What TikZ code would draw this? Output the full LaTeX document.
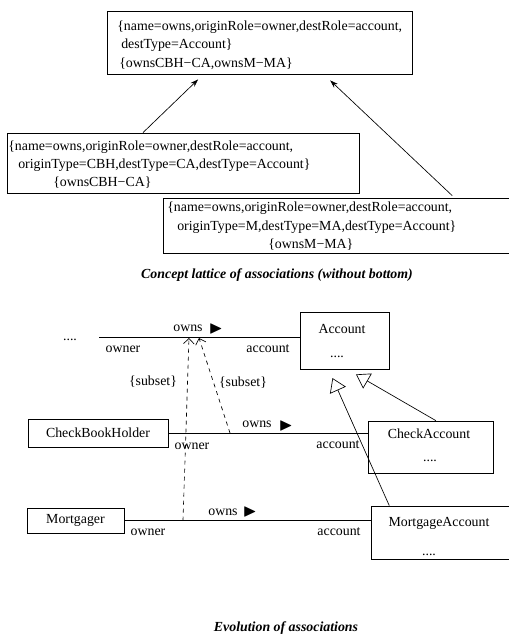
\documentclass[tikz,border=0pt]{standalone}
\usepackage{amssymb}
\usepackage{fontspec}
\setmainfont{Liberation Serif}
\usetikzlibrary{arrows.meta,positioning}

\begin{document}
\begin{tikzpicture}[x=0.75pt,y=-0.75pt,font=\fontsize{10.4}{12}\selectfont,
	box/.style={draw,line width=0.6pt,inner sep=0pt},
	txt/.style={anchor=west,inner sep=0pt},
	lbl/.style={inner sep=0pt},
	dir/.style={inner sep=0pt,scale=1.3},
	captxt/.style={font=\fontsize{10.4}{12}\selectfont\bfseries\itshape},
	subarr/.style={->,dashed,line width=0.5pt,>={Straight Barb[length=4pt]}},
	gen/.style={-{Triangle[open,length=10pt,width=13pt]},line width=0.5pt}]
	\useasboundingbox (0,0) rectangle (509,639);
	% concept lattice
	\node[box,minimum width=305*0.75pt,minimum height=63*0.75pt] (top) at (259.5,42.5) {};
	\node[txt] (t1) at (117,27) {\{name=owns,originRole=owner,destRole=account,};
	\node[txt] (t2) at (121,45) {destType=Account\}};
	\node[txt] (t3) at (119,64) {\{ownsCBH−CA,ownsM−MA\}};
	\node[box,minimum width=352*0.75pt,minimum height=60*0.75pt] (cbhca) at (183,163) {};
	\node[txt] (c1) at (8,147) {\{name=owns,originRole=owner,destRole=account,};
	\node[txt] (c2) at (18,165) {originType=CBH,destType=CA,destType=Account\}};
	\node[txt] (c3) at (53,183) {\{ownsCBH−CA\}};
	\node[box,minimum width=357*0.75pt,minimum height=55*0.75pt] (mma) at (341.5,225.5) {};
	\node[txt] (m1) at (167,208) {\{name=owns,originRole=owner,destRole=account,};
	\node[txt] (m2) at (177,227) {originType=M,destType=MA,destType=Account\}};
	\node[txt] (m3) at (268,245) {\{ownsM−MA\}};
	\draw[-{Stealth[length=6pt,width=4pt]},line width=0.5pt] ([xshift=-30pt]cbhca.north) -- ([xshift=-46pt,yshift=-3.75pt]top.south);
	\draw[-{Stealth[length=6pt,width=4pt]},line width=0.5pt] ([xshift=83pt,yshift=1.5pt]mma.north) -- ([xshift=53pt,yshift=-4.5pt]top.south);
	\node[captxt] (cap1) at (277,275) {Concept lattice of associations (without bottom)};
	% class diagram
	\node[box,minimum width=89*0.75pt,minimum height=57*0.75pt] (acc) at (344.5,340.5) {};
	\node[lbl] (accn) at (342,329) {Account};
	\node[lbl] (accd) at (337,357) {....};
	\node[box,minimum width=140*0.75pt,minimum height=28*0.75pt] (cbh) at (98,433) {CheckBookHolder};
	\node[box,minimum width=125*0.75pt,minimum height=52*0.75pt] (ca) at (430.5,447) {};
	\node[lbl] (can) at (429,434) {CheckAccount};
	\node[lbl] (cad) at (430,461) {....};
	\node[box,minimum width=97*0.75pt,minimum height=25*0.75pt] (mg) at (75.5,520.5) {Mortgager};
	\node[box,minimum width=149*0.75pt,minimum height=53*0.75pt] (ma) at (445.5,532.5) {};
	\node[lbl] (man) at (439,523) {MortgageAccount};
	\node[lbl] (mad) at (429,555) {....};
	\node[lbl] (dots) at (70,340) {....};
	\coordinate (topL) at (99,337);
	\draw[line width=0.6pt] (topL) -- (topL -| acc.west);
	\draw[line width=0.6pt] (cbh.east) -- (cbh.east -| ca.west);
	\draw[line width=0.6pt] (mg.east) -- (mg.east -| ma.west);
	\node[lbl] (own1) at (188,328) {owns};
	\node[dir] (tri1) at (216,329) {$\blacktriangleright$};
	\node[lbl] (own2) at (257,424) {owns};
	\node[dir] (tri2) at (286,426) {$\blacktriangleright$};
	\node[lbl] (own3) at (223,512) {owns};
	\node[dir] (tri3) at (250,512) {$\blacktriangleright$};
	\node[lbl] (or1) at (123,349) {owner};
	\node[lbl] (ar1) at (268,349) {account};
	\node[lbl] (or2) at (192,446) {owner};
	\node[lbl] (ar2) at (338,445) {account};
	\node[lbl] (or3) at (148,532) {owner};
	\node[lbl] (ar3) at (339,532) {account};
	\coordinate (s1a) at (183,520.5);
	\coordinate (s1b) at (189,338);
	\coordinate (s2a) at (230,433);
	\coordinate (s2b) at (199,338);
	\draw[subarr] (s1a) -- (s1b);
	\draw[subarr] (s2a) -- (s2b);
	\node[lbl] (sub1) at (153,382) {\{subset\}};
	\node[lbl] (sub2) at (243,383) {\{subset\}};
	\draw[gen] ([xshift=4pt]ca.north) -- ([xshift=8.6pt,yshift=-3.75pt]acc.south);
	\draw[gen] ([xshift=14pt]ma.north west) -- ([xshift=-9pt,yshift=-6.5pt]acc.south);
	\node[captxt] (cap2) at (286,628) {Evolution of associations};
\end{tikzpicture}
\end{document}
